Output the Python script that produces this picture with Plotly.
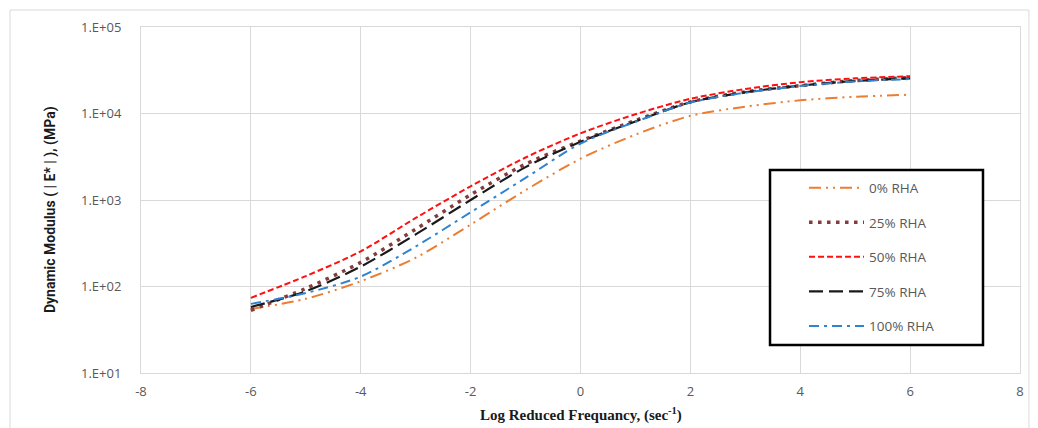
import plotly.graph_objects as go

# Log reduced frequency (sec^-1)
log_freq = [-6, -5, -4, -3, -2, -1, 0, 1, 2, 3, 4, 5, 6]

# Dynamic modulus |E*| (MPa) for each rice husk ash content
e_0 = [55, 72, 115, 215, 520, 1300, 3000, 5700, 9400, 12000, 14200, 15600, 16500]
e_25 = [53, 95, 190, 460, 1150, 2600, 4800, 8300, 13600, 17800, 21000, 24000, 26000]
e_50 = [74, 132, 255, 620, 1440, 3100, 5900, 9800, 14800, 19200, 23000, 25500, 27000]
e_75 = [58, 88, 170, 400, 1000, 2400, 4700, 8100, 13500, 17600, 21000, 23800, 25500]
e_100 = [63, 84, 130, 290, 720, 1800, 4500, 8000, 13400, 17400, 20800, 23500, 25000]

series_names = ["0% RHA", "25% RHA", "50% RHA", "75% RHA", "100% RHA"]
y_ticks = [10, 100, 1000, 10000, 100000]
y_tick_text = ["1.E+01", "1.E+02", "1.E+03", "1.E+04", "1.E+05"]
x_ticks = [-8, -6, -4, -2, 0, 2, 4, 6, 8]
x_tick_text = ["-8", "-6", "-4", "-2", "0", "2", "4", "6", "8"]

styles = [
    dict(color="#ED7D31", width=2, dash="12px,5px,2px,5px,2px,5px"),
    dict(color="#843C3C", width=3.5, dash="3.5px,5.5px"),
    dict(color="#FF1010", width=2, dash="6px,3px"),
    dict(color="#1A1A1A", width=2.2, dash="14px,6px"),
    dict(color="#2F83D0", width=2, dash="10px,5px,3px,5px"),
]

fig = go.Figure()
for name, vals, st in zip(series_names, [e_0, e_25, e_50, e_75, e_100], styles):
    fig.add_trace(go.Scatter(
        x=log_freq, y=vals, name=name, mode="lines",
        line=dict(shape="spline", smoothing=0.8, **st),
        legendgroup=name,
    ))

grid = "#D9D9D9"
tick_font = dict(family="Open Sans, sans-serif", size=13, color="#595959")

fig.update_layout(
    width=1038, height=428,
    margin=dict(l=141, r=18, t=27, b=55),
    paper_bgcolor="white", plot_bgcolor="white",
    showlegend=True,
    legend=dict(
        x=0.7543, y=0.5795, xanchor="left", yanchor="top",
        bgcolor="rgba(0,0,0,0)", borderwidth=0,
        font=dict(family="Open Sans, sans-serif", size=13.5, color="#595959"),
        tracegroupgap=14, itemwidth=55,
    ),
    xaxis=dict(
        range=[-8, 8], tickvals=x_ticks, ticktext=x_tick_text,
        showgrid=True, gridcolor=grid,
        showline=True, linecolor=grid, mirror=True, zeroline=False,
        tickfont=tick_font, ticks="", ticklabelstandoff=6,
    ),
    yaxis=dict(
        type="log", range=[1, 5], tickvals=y_ticks, ticktext=y_tick_text,
        showgrid=True, gridcolor=grid, showline=True, linecolor=grid,
        mirror=True, zeroline=False, tickfont=tick_font, ticks="",
        ticklabelstandoff=16,
    ),
    annotations=[
        dict(text="<b>Dynamic Modulus ( | E* | ), (MPa)</b>", textangle=-90,
             xref="paper", yref="paper", x=-0.1035, y=0.471,
             xanchor="center", yanchor="middle", showarrow=False,
             font=dict(family="Roboto, sans-serif", size=14, color="#1A1A1A")),
        dict(text="<b>Log Reduced Frequancy, (sec<sup>-1</sup>)</b>",
             xref="paper", yref="paper", x=0.5, y=-0.121,
             xanchor="center", yanchor="middle", showarrow=False,
             font=dict(family="Liberation Serif, serif", size=15, color="#1A1A1A")),
    ],
    shapes=[
        # chart-area outline
        dict(type="rect", xref="paper", yref="paper",
             x0=-0.149, x1=1.0102, y0=-0.2, y1=1.049,
             line=dict(color=grid, width=1), layer="below"),
        # legend frame
        dict(type="rect", xref="paper", yref="paper",
             x0=0.7156, x1=0.9579, y0=0.0809, y1=0.5867,
             fillcolor="white", line=dict(color="black", width=2.5),
             layer="above"),
    ],
)

fig.write_html("out.html")
